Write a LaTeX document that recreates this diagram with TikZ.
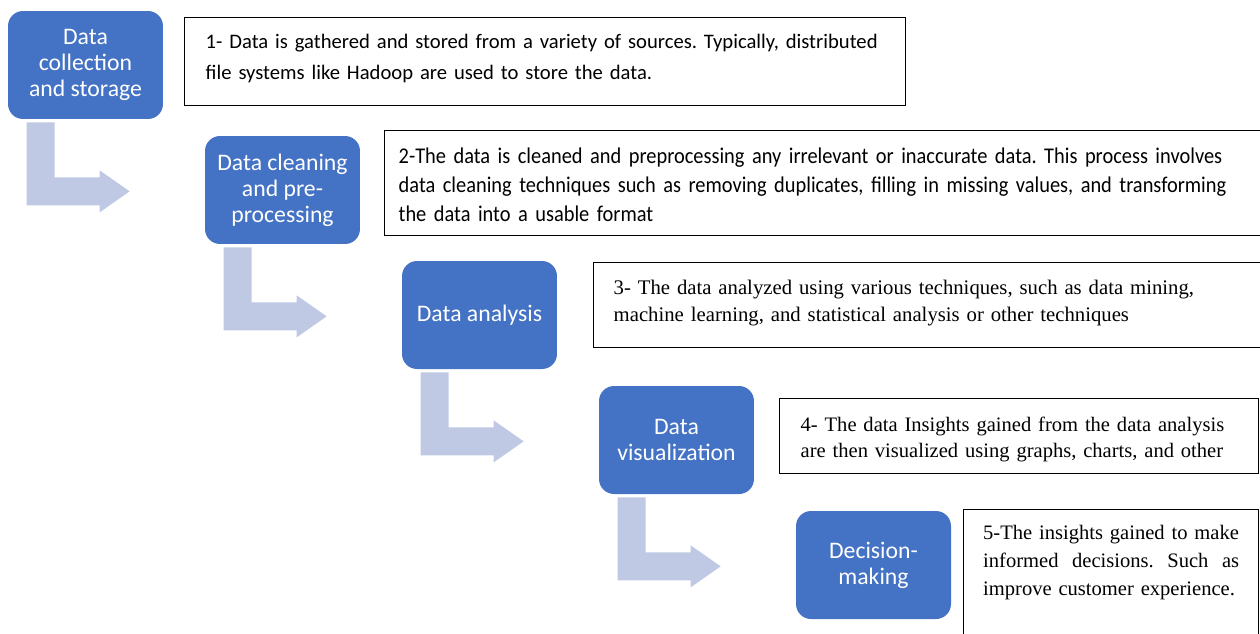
\documentclass[tikz,border=0pt]{standalone}
\usepackage{fontspec}
\setmainfont{Liberation Serif}
\newfontfamily\calibri{Carlito}
\newfontfamily\calibrinarrow[FakeStretch=0.907]{Carlito}
\definecolor{stageblue}{RGB}{68,114,196}
\definecolor{bendgrey}{RGB}{191,201,228}
\tikzset{
  stage/.style={fill=stageblue, text=white, rounded corners=0.3cm,
    minimum width=3.1cm, minimum height=2.16cm, align=center,
    font=\calibri\fontsize{13.5}{14.8}\selectfont},
  note/.style={draw, line width=0.8pt, anchor=north west, inner ysep=0pt,
    inner xsep=0.42cm, align=left},
  bentarrow/.style={fill=bendgrey}
}

\begin{document}
\frenchspacing
\begin{tikzpicture}[x=0.02cm, y=-0.02cm]
\useasboundingbox (0,0) rectangle (1260,633);

\node[stage] (s1) at (85.5,65) {Data\\collection\\and storage};
\node[stage] (s2) at (282.5,190) {Data cleaning\\and pre-\\processing};
\node[stage] (s3) at (479.5,315) {Data analysis};
\node[stage] (s4) at (676.5,440) {Data\\visualization};
\node[stage] (s5) at (873.5,565) {Decision-\\making};

% bent arrows below each stage
\foreach \i in {1,...,4}
  \fill[bentarrow, shift={(s\i.south west)}] (19,3) -- (47,3) -- (47,58) -- (92,58)
    -- (92,51) -- (122,72) -- (92,93) -- (92,86) -- (19,86) -- cycle;

\node[note, text width=13.58cm, text height=0.62cm, text depth=1.14cm,
  font=\calibri\fontsize{11.75}{17.6}\selectfont] (n1) at (184,17)
  {1- Data is gathered and stored from a variety of sources. Typically, distributed\\
   file systems like Hadoop are used to store the data.};
\node[note, inner xsep=0.28cm, text width=17.16cm, text height=0.66cm, text depth=1.44cm,
  font=\calibrinarrow\fontsize{12.8}{16.5}\selectfont] (n2) at (384,130)
  {2-The data is cleaned and preprocessing any irrelevant or inaccurate data. This process involves\\
   data cleaning techniques such as removing duplicates, filling in missing values, and transforming\\
   the data into a usable format};
\node[note, inner xsep=0.4cm, text width=12.74cm, text height=0.64cm, text depth=1.06cm,
  font=\fontsize{11.8}{15.4}\selectfont] (n3) at (593,262)
  {3- The data analyzed using various techniques, such as data mining,\\
   machine learning, and statistical analysis or other techniques};
\node[note, text width=8.74cm, text height=0.65cm, text depth=0.85cm,
  font=\fontsize{11.7}{14.8}\selectfont] (n4) at (779,398)
  {4- The data Insights gained from the data analysis\\
   are then visualized using graphs, charts, and other};
\node[note, inner xsep=0.39cm, text width=5.12cm, text height=0.6cm, text depth=2.22cm,
  font=\fontsize{11.7}{15.9}\selectfont] (n5) at (963,509)
  {5-The insights gained to make\\
   informed\hfill decisions.\hfill Such\hfill as\\
   improve customer experience.};
\end{tikzpicture}
\end{document}
